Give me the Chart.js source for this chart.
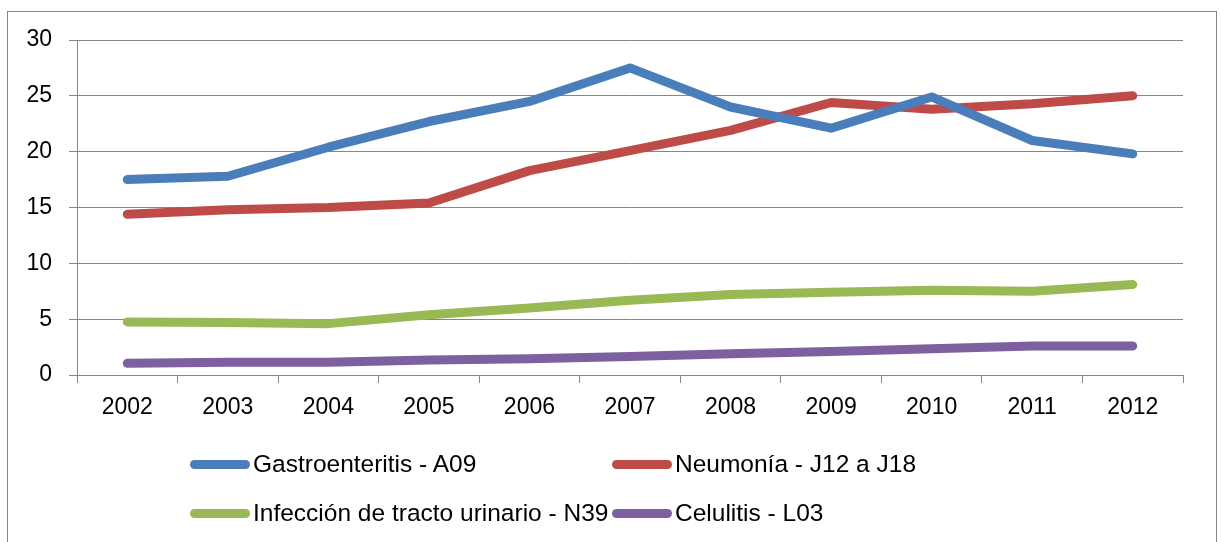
<!DOCTYPE html>
<html>
<head>
<meta charset="utf-8">
<script src="https://cdn.jsdelivr.net/npm/chart.js@4/dist/chart.umd.min.js"></script>
<style>
    body { margin: 0; background: #fff; font-family: "Liberation Sans Narrow", "Liberation Sans", sans-serif; }
    #frame { position: absolute; left: 7px; top: 11px; width: 1208px; height: 600px; border: 1px solid #868686; }
    #wrap { position: absolute; left: 0; top: 0; width: 1221px; height: 542px; }
    .leg { position: absolute; display: flex; align-items: center; font-size: 24.5px; color: #000; white-space: nowrap; }
    .leg span.sw { display: inline-block; width: 60px; height: 9px; border-radius: 5px; margin-right: 3px; }
</style>
</head>
<body>
<div id="frame"></div>
<div id="wrap"><canvas id="lineChart" width="1221" height="542"></canvas></div>
<div id="legend"></div>
<script>
    const years = ['2002', '2003', '2004', '2005', '2006', '2007', '2008', '2009', '2010', '2011', '2012'];
    const gastro = [17.5, 17.8, 20.4, 22.7, 24.5, 27.5, 24.0, 22.1, 24.9, 21.0, 19.8];
    const neumonia = [14.4, 14.8, 15.0, 15.4, 18.3, 20.1, 21.9, 24.4, 23.8, 24.3, 25.0];
    const infeccion = [4.75, 4.7, 4.6, 5.4, 6.0, 6.7, 7.2, 7.4, 7.6, 7.5, 8.1];
    const celulitis = [1.05, 1.15, 1.15, 1.35, 1.45, 1.65, 1.9, 2.1, 2.35, 2.6, 2.6];
    const yTicks = [0, 5, 10, 15, 20, 25, 30];

    const series = [
        {label: 'Gastroenteritis - A09', data: gastro, color: '#4A7EBB'},
        {label: 'Neumonía - J12 a J18', data: neumonia, color: '#BE4B48'},
        {label: 'Infección de tracto urinario - N39', data: infeccion, color: '#98B954'},
        {label: 'Celulitis - L03', data: celulitis, color: '#7D60A0'}
    ];

    const gridColor = '#868686';
    const font = {family: '"Liberation Sans Narrow", "Liberation Sans", sans-serif', size: 23};

    const ctx = document.getElementById('lineChart').getContext('2d');
    new Chart(ctx, {
        type: 'line',
        data: {
            labels: years,
            datasets: series.map(s => ({
                label: s.label,
                data: s.data,
                borderColor: s.color,
                backgroundColor: s.color,
                borderWidth: 9,
                pointRadius: 0,
                tension: 0,
                borderCapStyle: 'round',
                borderJoinStyle: 'round'
            }))
        },
        options: {
            responsive: false,
            animation: false,
            layout: {padding: {left: 0, top: 40, right: 38, bottom: 117}},
            plugins: {legend: {display: false}, tooltip: {enabled: false}},
            scales: {
                x: {
                    offset: true,
                    afterFit: function (scale) { scale.height = 50; },
                    grid: {drawOnChartArea: false, offset: true, color: gridColor, tickLength: 8},
                    border: {color: gridColor},
                    ticks: {color: '#000', font: font, padding: 11, maxRotation: 0}
                },
                y: {
                    min: 0,
                    max: 30,
                    afterFit: function (scale) { scale.width = 77; },
                    afterBuildTicks: function (scale) { scale.ticks = yTicks.map(v => ({value: v})); },
                    grid: {color: gridColor, tickLength: 8},
                    border: {color: gridColor},
                    ticks: {color: '#000', font: font, padding: 17}
                }
            }
        }
    });

    // leyenda en dos columnas
    const pos = [[190, 464], [612, 464], [190, 513], [612, 513]];
    const legend = document.getElementById('legend');
    series.forEach((s, i) => {
        const d = document.createElement('div');
        d.className = 'leg';
        d.style.left = pos[i][0] + 'px';
        d.style.top = (pos[i][1] - 15) + 'px';
        d.style.height = '30px';
        d.innerHTML = '<span class="sw" style="background:' + s.color + '"></span>' + s.label;
        legend.appendChild(d);
    });
</script>
</body>
</html>
